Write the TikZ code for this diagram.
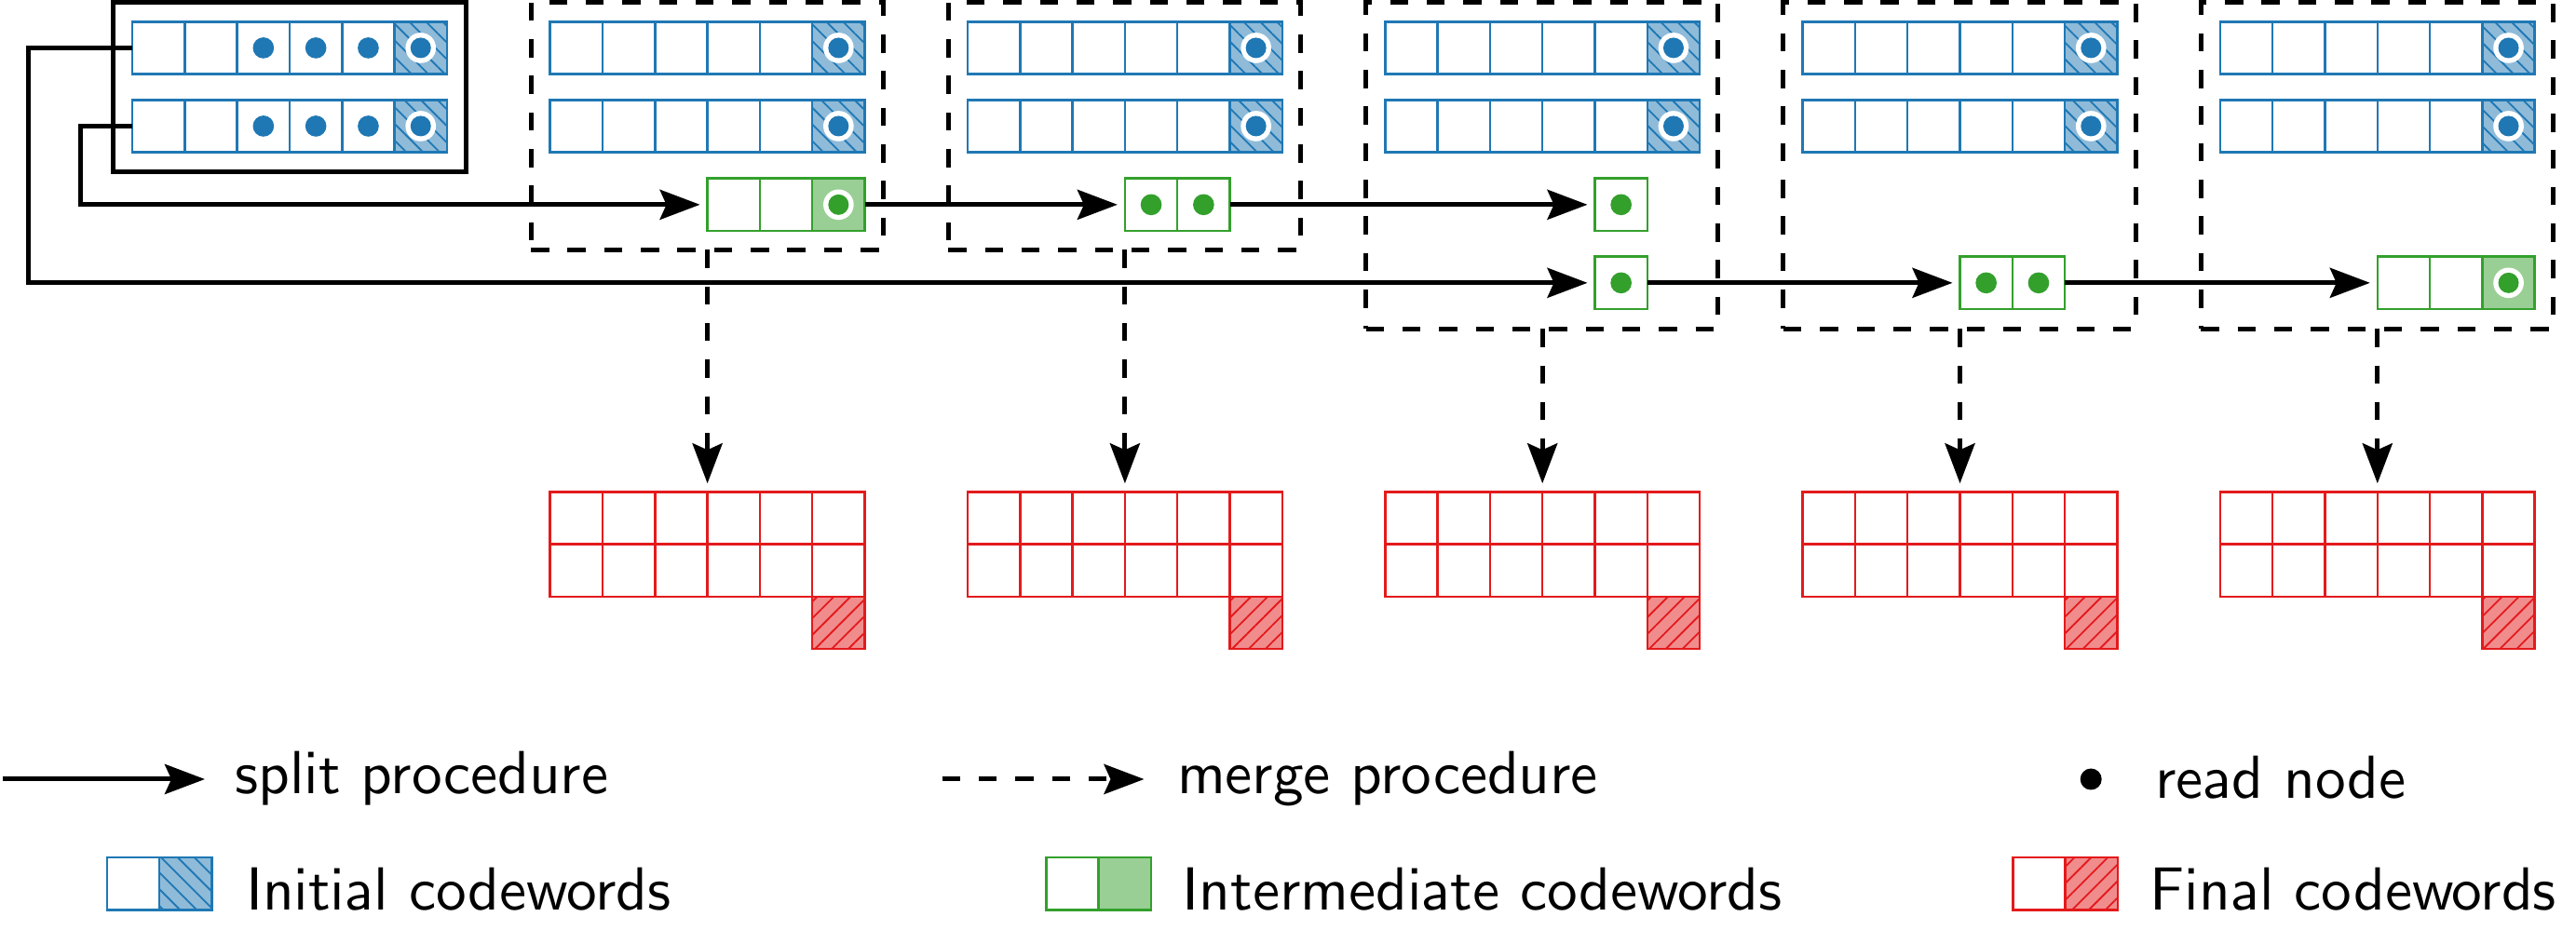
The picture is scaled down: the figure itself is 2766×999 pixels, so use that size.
\documentclass[tikz,border=0pt]{standalone}
\usetikzlibrary{arrows.meta,patterns.meta}
\definecolor{cblue}{HTML}{1F78B4}
\definecolor{cbluef}{HTML}{8FBBD9}
\definecolor{cgreen}{HTML}{33A02C}
\definecolor{cgreenf}{HTML}{99CF95}
\definecolor{cred}{HTML}{E31A1C}
\definecolor{credf}{HTML}{F18C8D}
\font\legfont=cmss10 at 19.6pt
\tikzset{
  cellbase/.style={line width=0.75pt, minimum size=16.89pt, inner sep=0pt, outer sep=0pt, fill=white},
  cellb/.style={cellbase, draw=cblue},
  cellbh/.style={cellbase, draw=cblue, fill=cbluef, postaction={pattern={Lines[angle=-45,distance=3.8pt,line width=0.55pt]}, pattern color=cblue}},
  cellg/.style={cellbase, draw=cgreen},
  cellgf/.style={cellbase, draw=cgreen, fill=cgreenf},
  cellr/.style={cellbase, draw=cred},
  cellrh/.style={cellbase, draw=cred, fill=credf, postaction={pattern={Lines[angle=45,distance=3.8pt,line width=0.55pt]}, pattern color=cred}},
  dbox/.style={draw=black, line width=1.5pt, dash pattern=on 5.85pt off 5.95pt, inner sep=0pt, outer sep=0pt, minimum width=113.49pt},
  ibox/.style={draw=black, line width=1.5pt, inner sep=0pt, outer sep=0pt},
  split/.style={line width=1.5pt, -{Stealth[length=12.9pt, width=9.6pt, inset=2.1pt]}, shorten >=2.4pt},
  merge/.style={line width=1.5pt, dash pattern=on 5.85pt off 5.95pt, -{Stealth[length=12.9pt, width=9.6pt, inset=2.1pt]}, shorten >=2.7pt},
  lbl/.style={anchor=base west, inner sep=0pt, outer sep=0pt, font=\legfont}
}
\newcommand{\ringdot}[2]{\fill[white] (#1.center) circle (4.9pt); \fill[#2] (#1.center) circle (3.3pt);}
\newcommand{\pdot}[2]{\fill[#2] (#1.center) circle (3.4pt);}
% blue codeword: name, x-left, y-center
\newcommand{\bluerow}[3]{%
  \foreach \c in {0,...,4} {\node[cellb] (#1-\c) at ({#2+28.15+56.3*\c},#3) {};}
  \node[cellbh] (#1-5) at ({#2+28.15+56.3*5},#3) {};
  \ringdot{#1-5}{cblue}
}
% final codeword grid: name, x-left
\newcommand{\finalgrid}[2]{%
  \foreach \r/\yy in {0/556.45,1/612.75} {\foreach \c in {0,...,5} {\node[cellr] (#1-\r-\c) at ({#2+28.15+56.3*\c},\yy) {};}}
  \node[cellrh] (#1-h) at ({#2+28.15+56.3*5},669.05) {};
}
\begin{document}
\begin{tikzpicture}[x=0.3pt,y=-0.3pt]
\useasboundingbox (0,0) rectangle (2766,999);

% boxes
\node[ibox, minimum width=113.58pt, minimum height=54.75pt] (init) at (310.7,93.75) {};
\node[dbox, minimum height=79.74pt] (box1) at (759.15,135.4) {};
\node[dbox, minimum height=79.74pt] (box2) at (1207.45,135.4) {};
\node[dbox, minimum height=105.24pt] (box3) at (1655.75,177.9) {};
\node[dbox, minimum height=105.24pt] (box4) at (2104.05,177.9) {};
\node[dbox, minimum height=105.24pt] (box5) at (2552.35,177.9) {};

% initial codewords
\bluerow{i1}{142.1}{51.45}
\bluerow{i2}{142.1}{135.45}
\foreach \c in {2,3,4} {\pdot{i1-\c}{cblue} \pdot{i2-\c}{cblue}}

% codewords in boxes
\bluerow{a1}{590.7}{51.45}  \bluerow{b1}{590.7}{135.45}
\bluerow{a2}{1039}{51.45}   \bluerow{b2}{1039}{135.45}
\bluerow{a3}{1487.3}{51.45} \bluerow{b3}{1487.3}{135.45}
\bluerow{a4}{1935.6}{51.45} \bluerow{b4}{1935.6}{135.45}
\bluerow{a5}{2383.9}{51.45} \bluerow{b5}{2383.9}{135.45}

% intermediate codewords
\node[cellg]  (g1-3) at ({590.7+28.15+56.3*3},219.85) {};
\node[cellg]  (g1-4) at ({590.7+28.15+56.3*4},219.85) {};
\node[cellgf] (g1-5) at ({590.7+28.15+56.3*5},219.85) {};
\ringdot{g1-5}{cgreen}

\node[cellg] (g2-3) at ({1039+28.15+56.3*3},219.85) {};
\node[cellg] (g2-4) at ({1039+28.15+56.3*4},219.85) {};
\pdot{g2-3}{cgreen} \pdot{g2-4}{cgreen}

\node[cellg] (g3a) at ({1487.3+28.15+56.3*4},219.85) {};
\node[cellg] (g3b) at ({1487.3+28.15+56.3*4},303.85) {};
\pdot{g3a}{cgreen} \pdot{g3b}{cgreen}

\node[cellg] (g4-3) at ({1935.6+28.15+56.3*3},303.85) {};
\node[cellg] (g4-4) at ({1935.6+28.15+56.3*4},303.85) {};
\pdot{g4-3}{cgreen} \pdot{g4-4}{cgreen}

\node[cellg]  (g5-3) at ({2383.9+28.15+56.3*3},303.85) {};
\node[cellg]  (g5-4) at ({2383.9+28.15+56.3*4},303.85) {};
\node[cellgf] (g5-5) at ({2383.9+28.15+56.3*5},303.85) {};
\ringdot{g5-5}{cgreen}

% final codewords
\finalgrid{f1}{590.7}
\finalgrid{f2}{1039}
\finalgrid{f3}{1487.3}
\finalgrid{f4}{1935.6}
\finalgrid{f5}{2383.9}

% split connectors
\coordinate (kA) at (30.4,51.45);
\coordinate (kB) at (86.4,135.45);
\draw[split] (i2-0.west) -- (kB) |- (g1-3.west);
\draw[split] (g1-5.east) -- (g2-3.west);
\draw[split] (g2-4.east) -- (g3a.west);
\draw[split] (i1-0.west) -- (kA) |- (g3b.west);
\draw[split] (g3b.east) -- (g4-3.west);
\draw[split] (g4-4.east) -- (g5-3.west);

% merge connectors
\foreach \k in {1,...,5} {\draw[merge] (f\k-0-3.north west |- box\k.south) -- (f\k-0-3.north west);}

% legend
\coordinate (ls0) at (3,837);
\coordinate (ls1) at (220,837);
\draw[split, shorten >=0pt] (ls0) -- (ls1);
\node[lbl] (tsplit) at (252.6,853) {split procedure};
\coordinate (lm0) at (1011.5,837);
\coordinate (lm1) at (1228.5,837);
\draw[merge, shorten >=0pt] (lm0) -- (lm1);
\node[lbl] (tmerge) at (1264,853) {merge procedure};
\coordinate (ld) at (2245.2,837);
\fill[black] (ld) circle (3.45pt);
\node[lbl] (tread) at (2314.2,858) {read node};

\node[cellb]  (lb0) at (142.95,949.15) {};
\node[cellbh] (lb1) at (199.25,949.15) {};
\node[lbl] (tinit) at (264,977) {Initial codewords};
\node[cellg]  (lg0) at (1151.55,949.15) {};
\node[cellgf] (lg1) at (1207.85,949.15) {};
\node[lbl] (tinter) at (1269.8,977) {Intermediate codewords};
\node[cellr]  (lr0) at (2189.4,949.15) {};
\node[cellrh] (lr1) at (2245.7,949.15) {};
\node[lbl] (tfinal) at (2308.7,977) {Final codewords};
\end{tikzpicture}
\end{document}
